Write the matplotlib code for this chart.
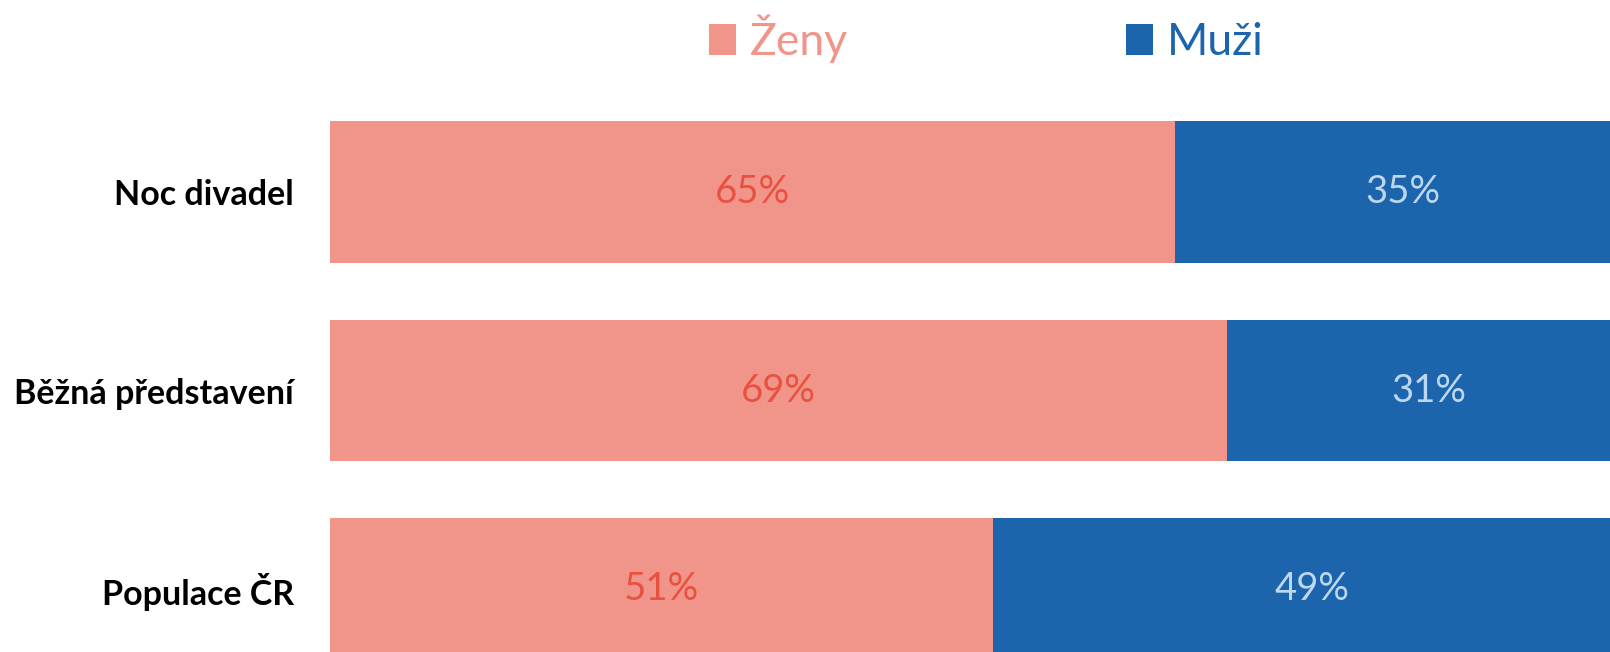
import matplotlib
matplotlib.use("Agg")
import matplotlib.pyplot as plt
import numpy as np

categories = ["Noc divadel", "Běžná představení", "Populace ČR"]
zeny = [65, 69, 51]
muzi = [35, 31, 49]
series_names = ["Ženy", "Muži"]

pink = "#F1958A"
blue = "#1C64AB"
pink_text = "#E8513F"
blue_text = "#BDD7EE"

plt.rcParams['font.family'] = ['Lato', 'DejaVu Sans']

W, H = 1610, 652
fig = plt.figure(figsize=(W / 100, H / 100), dpi=100)
# axes: x from 330px to 1630px, y from 100px (top) to 652px (bottom)
ax = fig.add_axes([330 / W, 0, 1300 / W, (652 - 100) / H])

y = np.arange(len(categories))
h = 0.715
b1 = ax.barh(y, zeny, height=h, color=pink, label=series_names[0])
b2 = ax.barh(y, muzi, left=zeny, height=h, color=blue, label=series_names[1])

for rect, v in zip(b1, zeny):
    ax.text(rect.get_x() + rect.get_width() / 2, rect.get_y() + rect.get_height() / 2,
            f"{v}%", ha="center", va="center", color=pink_text, fontsize=27.5)
for rect, v in zip(b2, muzi):
    ax.text(rect.get_x() + rect.get_width() / 2, rect.get_y() + rect.get_height() / 2,
            f"{v}%", ha="center", va="center", color=blue_text, fontsize=27.5)

ax.set_xlim(0, 100)
ax.set_ylim((652 - 192) / 198.5, (100 - 192) / 198.5)
ax.set_yticks(y)
ax.set_yticklabels(categories, fontsize=24.5, fontweight="bold")
ax.tick_params(axis="y", length=0, pad=26)
ax.set_xticks([])
for s in ax.spines.values():
    s.set_visible(False)

leg = fig.legend(handles=[b1, b2], loc="center", bbox_to_anchor=(986 / W, 1 - 39 / H),
                 ncol=2, frameon=False, fontsize=32, handlelength=0.62, handleheight=0.68,
                 handletextpad=0.3, columnspacing=6.25, borderpad=0)
for t, c in zip(leg.get_texts(), [pink, blue]):
    t.set_color(c)

fig.savefig("out.png", dpi=100)
